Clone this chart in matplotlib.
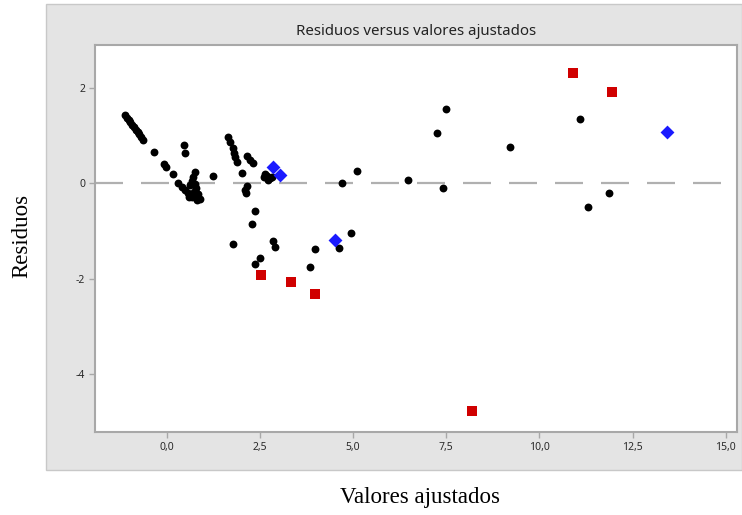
import matplotlib.pyplot as plt
from matplotlib.patches import Rectangle

# fitted values / residuals, ordinary observations
fit_ok = [-1.11, -1.06, -1.01, -0.97, -0.92, -0.87, -0.83, -0.78, -0.73, -0.68, -0.62,
          -0.34, -0.07, -0.01, 0.17, 0.47, 0.50,
          0.31, 0.42, 0.50, 0.58, 0.68, 0.82, 0.76, 0.71, 0.68, 0.63, 0.76, 0.84, 0.90,
          0.74, 0.79, 0.60, 1.25,
          1.65, 1.70, 1.78, 1.81, 1.84, 1.89, 2.16, 2.24, 2.32, 2.02, 2.16, 2.13, 2.10,
          2.61, 2.69, 2.77, 2.72, 2.64, 2.83,
          2.37, 2.29, 1.78, 2.86, 2.91, 2.51, 2.37,
          3.98, 3.85, 4.62, 4.95, 4.71, 5.11, 6.47, 7.41, 7.25, 7.49, 9.21,
          11.09, 11.30, 11.86]
res_ok = [1.42, 1.37, 1.32, 1.27, 1.22, 1.17, 1.12, 1.07, 1.02, 0.97, 0.91,
          0.65, 0.40, 0.34, 0.19, 0.80, 0.63,
          0.00, -0.08, -0.15, -0.21, -0.29, -0.36, 0.23, 0.13, 0.04, -0.04, -0.02, -0.23, -0.34,
          -0.19, -0.10, -0.29, 0.15,
          0.96, 0.86, 0.73, 0.63, 0.54, 0.44, 0.57, 0.48, 0.42, 0.21, -0.06, -0.21, -0.15,
          0.13, 0.15, 0.10, 0.06, 0.19, 0.13,
          -0.59, -0.86, -1.28, -1.21, -1.34, -1.57, -1.70,
          -1.38, -1.76, -1.36, -1.05, 0.00, 0.25, 0.06, -0.10, 1.05, 1.55, 0.75,
          1.34, -0.50, -0.21]

# large standardized residuals
fit_red = [2.53, 3.34, 3.98, 8.19, 10.90, 11.94]
res_red = [-1.93, -2.07, -2.32, -4.77, 2.30, 1.91]

# unusual x values
fit_blue = [2.86, 3.04, 4.52, 13.42]
res_blue = [0.34, 0.17, -1.19, 1.07]

x_ticks = [0.0, 2.5, 5.0, 7.5, 10.0, 12.5, 15.0]
y_ticks = [2, 0, -2, -4]

fig = plt.figure(figsize=(7.42, 5.15), dpi=100)
fig.patch.set_facecolor("white")

# grey graph region behind the data region
fig.patches.append(Rectangle((46 / 742, 1 - 470 / 515), 696 / 742, 466 / 515,
                             transform=fig.transFigure, facecolor="#e4e4e4",
                             edgecolor="#c8c8c8", linewidth=1.0, zorder=-10))

ax = fig.add_axes([95 / 742, 1 - 432 / 515, 642 / 742, 387 / 515])
ax.set_facecolor("white")

ax.axhline(0, color="#b0b0b0", linewidth=1.6, dashes=(12.6, 8.1), zorder=1)

ax.scatter(fit_ok, res_ok, s=32, marker="o", color="black", linewidths=0, zorder=3)
ax.scatter(fit_red, res_red, s=55, marker="s", color="#d00000", linewidths=0, zorder=4)
ax.scatter(fit_blue, res_blue, s=50, marker="D", color="#1a1aff", linewidths=0, zorder=4)

ax.set_xlim(-1.92, 15.3)
ax.set_ylim(-5.21, 2.89)

# decimal comma on the x axis
tick_font = dict(family="Noto Sans", fontweight="bold", fontsize=7.5, color="#2a2a2a")
ax.set_xticks(x_ticks, labels=[f"{v:.1f}".replace(".", ",") for v in x_ticks], **tick_font)
ax.set_yticks(y_ticks, labels=[str(v) for v in y_ticks], **tick_font)

for side in ax.spines.values():
    side.set_color("#a8a8a8")
    side.set_linewidth(1.5)

ax.tick_params(axis="both", direction="out", length=4, width=1, color="#a8a8a8", pad=3)

ax.set_title("Residuos versus valores ajustados", fontsize=10.8, family="Noto Sans",
             color="#222222", pad=7)

fig.text(420 / 742, 1 - 497 / 515, "Valores ajustados", ha="center", va="center",
         fontsize=16.5, family="Liberation Serif")
fig.text(22 / 742, 1 - 236 / 515, "Residuos", ha="center", va="center", rotation=90,
         fontsize=16.5, family="Liberation Serif")

fig.savefig("out.png", dpi=100, facecolor="white")
